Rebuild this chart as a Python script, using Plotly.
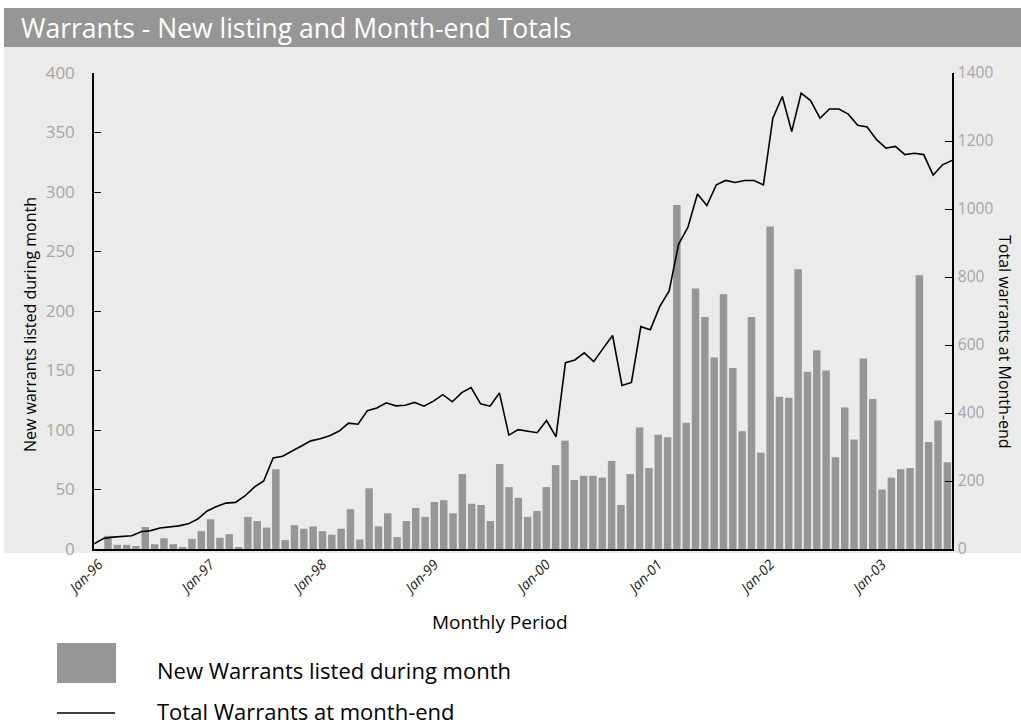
import plotly.graph_objects as go
import pandas as pd

# ---- data ----
months = list(pd.date_range("1996-01-01", periods=92, freq="MS").strftime("%b-%y"))
jan_ticks = [m for m in months if m.startswith("Jan")]

new_warrants = [0, 11, 3.5, 3.5, 2.5, 18.5, 4, 9, 4, 1, 8.5, 15,
                25, 9.5, 12.5, 1, 27, 23.5, 18, 67, 7.5, 20, 17, 19,
                15, 12, 17, 33.5, 8, 51, 19, 30, 10, 23.5, 34.5, 27,
                39.5, 41, 30, 63, 38, 37, 23.5, 71.5, 52, 43, 27, 32,
                52, 70.5, 91, 58, 61.5, 61.5, 60, 74, 37, 63, 102, 68,
                96, 94, 289, 106, 219, 195, 161, 214, 152, 99, 195, 81,
                271, 128, 127, 235, 149, 167, 150, 77, 119, 92, 160, 126,
                50, 60, 67, 68, 230, 90, 108, 73]

total_warrants = [15, 31, 35, 37, 39, 51, 54, 62, 65, 68, 74, 88,
                  112, 125, 135, 137, 156, 182, 200, 268, 273, 287, 303, 318,
                  324, 333, 347, 370, 367, 407, 415, 430, 421, 423, 431, 420,
                  435, 454, 433, 460, 475, 427, 420, 459, 335, 351, 347, 342,
                  378, 330, 548, 556, 577, 551, 590, 628, 481, 490, 654, 645,
                  713, 759, 896, 947, 1044, 1010, 1071, 1084, 1078, 1084, 1084, 1071,
                  1267, 1331, 1228, 1341, 1319, 1267, 1294, 1294, 1279, 1246, 1241, 1204,
                  1179, 1184, 1160, 1164, 1160, 1100, 1130, 1143]

title_text = "Warrants - New listing and Month-end Totals"
bar_name = "New Warrants listed during month"
line_name = "Total Warrants at month-end"

FONT = "Open Sans"
BAR_COLOR = "#969696"

# ---- geometry helpers (pixel -> paper) ----
W, H = 1021, 727
L, R, T, B = 94, 952, 73, 549


def px(x):
    return (x - L) / (R - L)


def py(y):
    return (B - y) / (B - T)


fig = go.Figure()
fig.add_trace(go.Bar(x=months, y=new_warrants, marker_color=BAR_COLOR,
                     marker_line_width=0, name=bar_name, showlegend=False,
                     xaxis="x", yaxis="y"))
fig.add_trace(go.Scatter(x=months, y=total_warrants, mode="lines",
                         line=dict(color="black", width=1.6), name=line_name,
                         showlegend=False, xaxis="x2", yaxis="y2"))

shapes = [
    # light grey chart background
    dict(type="rect", xref="paper", yref="paper", x0=px(4), x1=px(1021),
         y0=py(553), y1=py(47), fillcolor="#ebebeb", line_width=0, layer="below"),
    # title banner
    dict(type="rect", xref="paper", yref="paper", x0=px(4), x1=px(1021),
         y0=py(47), y1=py(8), fillcolor="#969696", line_width=0, layer="below"),
    # legend swatches
    dict(type="rect", xref="paper", yref="paper", x0=px(57), x1=px(116),
         y0=py(683), y1=py(643), fillcolor=BAR_COLOR, line_width=0),
    dict(type="line", xref="paper", yref="paper", x0=px(57), x1=px(115),
         y0=py(713), y1=py(713), line=dict(color="black", width=1.6)),
]

annotations = [
    dict(text=title_text, xref="paper", yref="paper", x=px(19), y=py(28),
         xanchor="left", yanchor="middle", showarrow=False,
         font=dict(family=FONT, size=26.5, color="white")),
    dict(text="New warrants listed during month", xref="paper", yref="paper",
         x=px(30), y=py(325), textangle=-90, showarrow=False,
         xanchor="center", yanchor="middle",
         font=dict(family=FONT, size=16, color="black")),
    dict(text="Total warrants at Month-end", xref="paper", yref="paper",
         x=px(1005), y=py(342), textangle=90, showarrow=False,
         xanchor="center", yanchor="middle",
         font=dict(family=FONT, size=16, color="black")),
    dict(text="Monthly Period", xref="paper", yref="paper",
         x=px(500), y=py(622), showarrow=False, xanchor="center", yanchor="middle",
         font=dict(family=FONT, size=19, color="black")),
    dict(text=bar_name, xref="paper", yref="paper", x=px(155), y=py(670),
         showarrow=False, xanchor="left", yanchor="middle",
         font=dict(family=FONT, size=22, color="black")),
    dict(text=line_name, xref="paper", yref="paper", x=px(155), y=py(711),
         showarrow=False, xanchor="left", yanchor="middle",
         font=dict(family=FONT, size=22, color="black")),
]

fig.update_layout(
    width=W, height=H,
    margin=dict(l=L, r=W - R, t=T, b=H - B, pad=0),
    paper_bgcolor="white", plot_bgcolor="rgba(0,0,0,0)",
    bargap=0.2,
    shapes=shapes, annotations=annotations,
    xaxis=dict(type="category", categoryorder="array", categoryarray=months,
               range=[-0.5, len(months) - 0.5],
               tickmode="array", tickvals=jan_ticks, ticktext=jan_ticks,
               tickangle=-45, ticks="", showline=True, linecolor="black",
               linewidth=1.5, showgrid=False, zeroline=False,
               tickfont=dict(family=FONT, size=14, color="#222222", style="italic")),
    xaxis2=dict(type="category", categoryorder="array", categoryarray=months,
                range=[0, len(months) - 1], overlaying="x", visible=False),
    yaxis=dict(range=[0, 400], dtick=50, ticks="inside", ticklen=7,
               tickcolor="black", showline=True, linecolor="black", linewidth=1.5,
               showgrid=False, zeroline=False, ticklabelstandoff=14,
               tickfont=dict(family=FONT, size=17, color="#a6a6a6")),
    yaxis2=dict(range=[0, 1400], dtick=200, ticks="inside", ticklen=7,
                tickcolor="black", showline=True, linecolor="black", linewidth=1.5,
                overlaying="y", side="right", anchor="x",
                showgrid=False, zeroline=False, ticklabelstandoff=1,
                tickfont=dict(family=FONT, size=15.5, color="#a6a6a6")),
)

fig.write_html("out.html", config={"displayModeBar": False},
               post_script="document.body.style.margin='0';document.body.style.overflow='hidden';")
